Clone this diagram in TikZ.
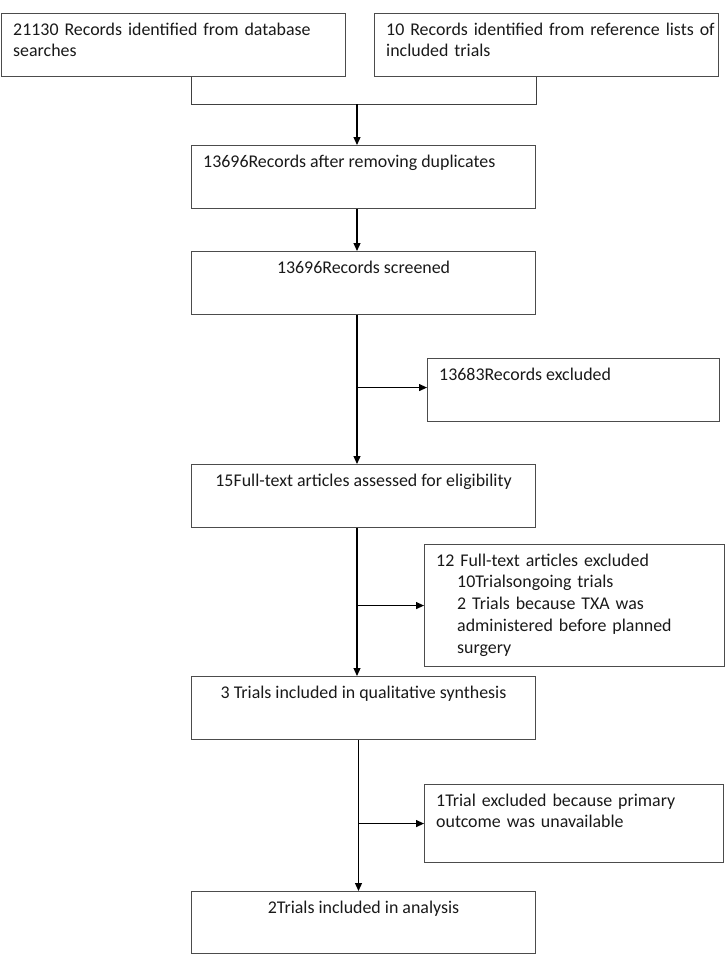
\documentclass[tikz,border=0pt]{standalone}
\usepackage{fontspec}
\setmainfont{Carlito}
\usetikzlibrary{positioning,calc,arrows.meta}

\begin{document}
\begin{tikzpicture}[x=1pt,y=-1pt,
    box/.style={draw=black!70, line width=1.1pt, rectangle, anchor=north west, inner sep=0pt},
    txt/.style={anchor=base west, inner sep=0pt, align=left, text=black!90, font=\fontsize{17.9}{21.8}\selectfont},
    ctxt/.style={anchor=base, inner sep=0pt, text=black!90, font=\fontsize{17.9}{21.8}\selectfont},
    arr/.style={-{Triangle[length=8pt,width=7pt]}, line width=1.2pt},
    link/.style={draw=black!75, line width=1pt}]
    \useasboundingbox (0,0) rectangle (725,954);

    % boxes
    \node [box, minimum width=344pt, minimum height=63pt] (db) at (1,13) {};
    \node [box, minimum width=344pt, minimum height=63pt] (ref) at (374,13) {};
    \node [box, minimum width=344pt, minimum height=63pt] (dup) at (191,145) {};
    \node [box, minimum width=344pt, minimum height=63pt] (scr) at (191,251) {};
    \node [box, minimum width=292pt, minimum height=63pt] (exc) at (427,358) {};
    \node [box, minimum width=344pt, minimum height=63pt] (ft) at (191,464) {};
    \node [box, minimum width=300pt, minimum height=122pt] (ftx) at (424,544) {};
    \node [box, minimum width=344pt, minimum height=63pt] (qual) at (191,676) {};
    \node [box, minimum width=299pt, minimum height=78pt] (one) at (424,784) {};
    \node [box, minimum width=344pt, minimum height=62pt] (ana) at (191,891) {};

    % texts
    \node [txt, text width=330pt] (dbText) at ([shift={(12,22)}]db.north west) {21130 Records identified from database\\searches};
    \node [txt, text width=330pt] (refText) at ([shift={(12,22)}]ref.north west) {10 Records identified from reference lists of\\included trials};
    \node [txt] (dupText) at ([shift={(12,22)}]dup.north west) {13696Records after removing duplicates};
    \node [ctxt] (scrText) at ([yshift=-22pt]scr.north) {13696Records screened};
    \node [txt] (excText) at ([shift={(12,22)}]exc.north west) {13683Records excluded};
    \node [ctxt] (ftText) at ([yshift=-22pt]ft.north) {15Full-text articles assessed for eligibility};
    \node [txt, text width=285pt] (ftxText) at ([shift={(12,22)}]ftx.north west) {12 Full-text articles excluded\\
        \hspace*{21pt}10Trialsongoing trials\\
        \hspace*{21pt}2 Trials because TXA was\\
        \hspace*{21pt}administered before planned\\
        \hspace*{21pt}surgery};
    \node [ctxt] (qualText) at ([yshift=-22pt]qual.north) {3 Trials included in qualitative synthesis};
    \node [txt, text width=285pt] (oneText) at ([shift={(12,22)}]one.north west) {1Trial excluded because primary\\outcome was unavailable};
    \node [ctxt] (anaText) at ([yshift=-22pt]ana.north) {2Trials included in analysis};

    % connectors
    \coordinate (join) at (357,104);
    \draw [link] (db.south -| dup.west) -- (dup.west |- join) -- (dup.east |- join) -- (ref.south -| dup.east);
    \draw [arr] (join) -- (dup.north -| join);
    \draw [arr] (dup.south -| join) -- (scr.north -| join);
    \draw [arr] (scr.south -| join) -- (ft.north -| join);
    \draw [arr] ([yshift=2.5pt]exc.west -| join) -- ([yshift=2.5pt]exc.west);
    \draw [arr] (ft.south -| join) -- (qual.north -| join);
    \draw [arr] (ftx.west -| join) -- (ftx.west);
    \draw [arr] ([xshift=1.5pt]qual.south -| join) -- ([xshift=1.5pt]ana.north -| join);
    \draw [arr] ([xshift=1.5pt]one.west -| join) -- (one.west);
\end{tikzpicture}
\end{document}
